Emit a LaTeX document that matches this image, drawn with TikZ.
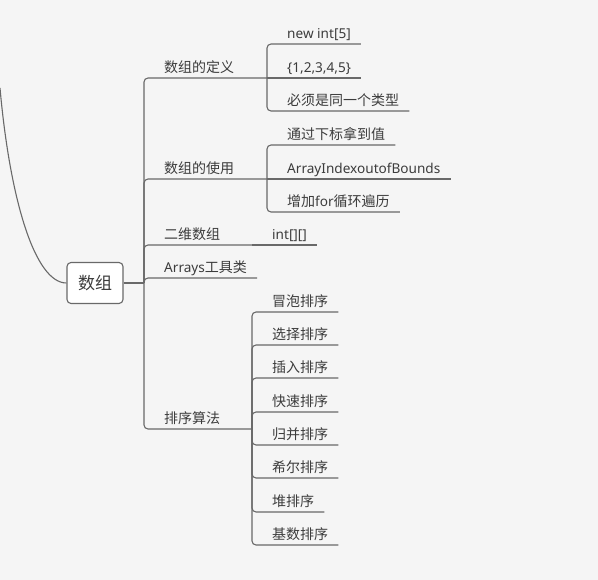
\documentclass[tikz,border=0pt]{standalone}
\usepackage{fontspec}
\setmainfont{Noto Sans CJK SC}
\newfontfamily\latf{Noto Sans}
\newcommand{\lt}[1]{{\latf\fontsize{13.6}{16}\selectfont #1}}
\definecolor{bgc}{RGB}{245,245,245}
\definecolor{linec}{RGB}{105,105,105}
\definecolor{txtc}{RGB}{60,60,60}
\begin{document}
\begin{tikzpicture}[x=1pt,y=-1pt,
  br/.style={draw=linec,line width=1.1pt,rounded corners=4pt},
  lbl/.style={anchor=south west,inner xsep=0pt,inner ysep=5.5pt,text depth=0pt,
    font=\fontsize{14}{16}\selectfont,text=txtc},
  rootbox/.style={draw=linec,line width=1.1pt,fill=white,rounded corners=4pt,
    minimum width=56pt,minimum height=41pt,inner sep=0pt,
    font=\fontsize{17}{20}\selectfont,text=txtc}]
\fill[bgc] (0,0) rectangle (598,580);
\useasboundingbox (0,0) rectangle (598,580);
% root
\node[rootbox] (root) at (95,283) {数组};
\coordinate (offp) at (0,88);
\draw[br] (offp) .. controls (10,200) and (35,283) .. (root.west);
\coordinate (t0) at (144,283);
\draw[br] (root.east) -- (t0);
% level 1 nodes
\node[lbl] (def) at (164,78) {数组的定义};
\node[lbl] (use) at (164,179) {数组的使用};
\node[lbl] (two) at (164,245) {二维数组};
\node[lbl] (arr) at (164,278) {\lt{Arrays}工具类};
\node[lbl] (sort) at (164,429) {排序算法};
\coordinate (jd) at (267,78);
\coordinate (ju) at (267,179);
\coordinate (jt) at (252,245);
\coordinate (js) at (252,429);
\draw[br] (t0) |- (jd);
\draw[br] (t0) |- (ju);
\draw[br] (t0) |- (jt);
\draw[br] (t0) |- ([xshift=10pt]arr.south east);
\draw[br] (t0) |- (js);
% definition
\node[lbl] (d1) at (287,44) {\lt{new int[5]}};
\node[lbl] (d2) at (287,78) {\lt{\{1,2,3,4,5\}}};
\node[lbl] (d3) at (287,111) {必须是同一个类型};
\draw[br] (jd) |- ([xshift=10pt]d1.south east);
\draw[br] (jd) -- ([xshift=10pt]d2.south east);
\draw[br] (jd) |- ([xshift=10pt]d3.south east);
% usage
\node[lbl] (u1) at (287,145) {通过下标拿到值};
\node[lbl] (u2) at (287,179) {\lt{ArrayIndexoutofBounds}};
\node[lbl] (u3) at (287,212) {增加\lt{for}循环遍历};
\draw[br] (ju) |- ([xshift=10pt]u1.south east);
\draw[br] (ju) -- ([xshift=10pt]u2.south east);
\draw[br] (ju) |- ([xshift=10pt]u3.south east);
% 2D
\node[lbl] (t1) at (272,245) {\lt{int[][]}};
\draw[br] (jt) -- ([xshift=10pt]t1.south east);
% sorting
\node[lbl] (s1) at (272,312) {冒泡排序};
\node[lbl] (s2) at (272,345) {选择排序};
\node[lbl] (s3) at (272,378) {插入排序};
\node[lbl] (s4) at (272,412) {快速排序};
\node[lbl] (s5) at (272,445) {归并排序};
\node[lbl] (s6) at (272,478) {希尔排序};
\node[lbl] (s7) at (272,512) {堆排序};
\node[lbl] (s8) at (272,545) {基数排序};
\foreach \s in {s1,s2,s3,s4,s5,s6,s7,s8}
  \draw[br] (js) |- ([xshift=10pt]\s.south east);
\end{tikzpicture}
\end{document}
